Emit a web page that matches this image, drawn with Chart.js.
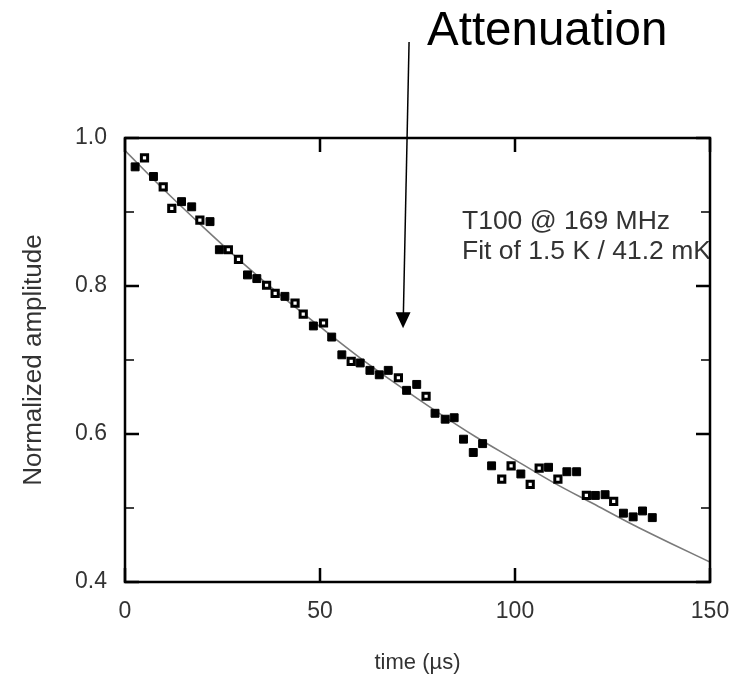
<!DOCTYPE html>
<html>
<head>
<meta charset="utf-8">
<script src="https://cdn.jsdelivr.net/npm/chart.js@4.4.1/dist/chart.umd.min.js"></script>
<style>
  html, body { margin: 0; padding: 0; background: #fff; }
  #wrap { width: 756px; height: 676px; }
</style>
</head>
<body>
<div id="wrap"><canvas id="grafico" width="756" height="676"></canvas></div>
<script>
// ===== dados =====
// pontos cheios (t em us, amplitude normalizada)
const cheioT = [2.6, 7.3, 14.5, 17.1, 21.8, 24.2, 31.4, 33.8, 41.0, 48.3, 53.0, 55.6, 60.3, 62.8, 65.2, 67.5, 72.2, 74.8,
  79.5, 82.1, 84.4, 86.8, 89.3, 91.7, 94.0, 101.5, 108.6, 113.3, 115.8, 120.6, 123.1, 127.8, 130.3, 132.7, 135.2];
const cheioY = [0.961, 0.948, 0.914, 0.907, 0.887, 0.849, 0.815, 0.810, 0.786, 0.746, 0.731, 0.707, 0.696, 0.686, 0.680, 0.686, 0.659, 0.667,
  0.628, 0.620, 0.622, 0.593, 0.575, 0.587, 0.557, 0.546, 0.555, 0.549, 0.549, 0.517, 0.518, 0.493, 0.488, 0.496, 0.487];

// pontos vazados
const vazioT = [5.0, 9.8, 12.0, 19.2, 26.5, 29.1, 36.3, 38.5, 43.6, 45.7, 50.9, 58.0, 70.1, 77.2, 96.6, 99.0, 103.9, 106.2, 111.0, 118.3, 125.3];
const vazioY = [0.973, 0.934, 0.905, 0.889, 0.849, 0.836, 0.801, 0.790, 0.777, 0.762, 0.750, 0.698, 0.676, 0.651, 0.539, 0.557, 0.532, 0.554, 0.539, 0.517, 0.509];

// curva de ajuste
const ajusteT = [0, 10, 20, 30, 40, 50, 60, 70, 80, 90, 100, 110, 120, 130, 140, 150];
const ajusteY = [0.983, 0.930, 0.880, 0.832, 0.787, 0.745, 0.704, 0.666, 0.630, 0.596, 0.565, 0.534, 0.506, 0.478, 0.452, 0.427];

// eixos
const ticksX = [0, 50, 100, 150];
const ticksY = [0.4, 0.6, 0.8, 1.0];
const ticksYMenores = [0.5, 0.7, 0.9];

const textoLegenda = ["T100 @ 169 MHz", "Fit of 1.5 K / 41.2 mK"];

function pares(xs, ys) {
  return xs.map((x, i) => ({ x: x, y: ys[i] }));
}

const fonte = "'Liberation Sans', Arial, sans-serif";

// ===== moldura, ticks internos e anotacoes =====
const molduraPlugin = {
  id: "moldura",
  afterDraw(chart) {
    const ctx = chart.ctx;
    const a = chart.chartArea;
    const sx = chart.scales.x;
    const sy = chart.scales.y;
    ctx.save();
    ctx.strokeStyle = "#000";

    // ticks internos
    ctx.lineWidth = 2.5;
    ticksY.forEach((v) => {
      const py = sy.getPixelForValue(v);
      ctx.beginPath();
      ctx.moveTo(a.left, py); ctx.lineTo(a.left + 14, py);
      ctx.moveTo(a.right, py); ctx.lineTo(a.right - 14, py);
      ctx.stroke();
    });
    ticksX.forEach((v) => {
      const px = sx.getPixelForValue(v);
      ctx.beginPath();
      ctx.moveTo(px, a.bottom); ctx.lineTo(px, a.bottom - 14);
      ctx.moveTo(px, a.top); ctx.lineTo(px, a.top + 14);
      ctx.stroke();
    });
    ctx.lineWidth = 1.5;
    ticksYMenores.forEach((v) => {
      const py = sy.getPixelForValue(v);
      ctx.beginPath();
      ctx.moveTo(a.left, py); ctx.lineTo(a.left + 9, py);
      ctx.moveTo(a.right, py); ctx.lineTo(a.right - 9, py);
      ctx.stroke();
    });

    // moldura
    ctx.lineWidth = 2.5;
    ctx.strokeRect(a.left, a.top, a.right - a.left, a.bottom - a.top);

    // legenda dentro do grafico (cortada pela borda)
    ctx.save();
    ctx.beginPath();
    ctx.rect(a.left, a.top, a.right - a.left - 1, a.bottom - a.top);
    ctx.clip();
    ctx.fillStyle = "#333";
    ctx.font = "26.5px " + fonte;
    ctx.textBaseline = "alphabetic";
    const lx = sx.getPixelForValue(86.4);
    ctx.fillText(textoLegenda[0], lx, sy.getPixelForValue(0.877));
    ctx.fillText(textoLegenda[1], lx, sy.getPixelForValue(0.837));
    ctx.restore();

    // seta "Attenuation"
    const px = sx.getPixelForValue(71.3);
    const py = sy.getPixelForValue(0.743);
    ctx.lineWidth = 1.5;
    ctx.beginPath();
    ctx.moveTo(px + 6, 42);
    ctx.lineTo(px + 0.3, py - 14);
    ctx.stroke();
    ctx.fillStyle = "#000";
    ctx.beginPath();
    ctx.moveTo(px, py);
    ctx.lineTo(px - 7.5, py - 16);
    ctx.lineTo(px + 7.5, py - 16);
    ctx.closePath();
    ctx.fill();

    ctx.font = "47.5px " + fonte;
    ctx.fillText("Attenuation", 427, 45);
    ctx.restore();
  },
};

const ctx = document.getElementById("grafico").getContext("2d");
let myChart = new Chart(ctx, {
  type: "scatter",
  data: {
    datasets: [
      {
        label: "Fit",
        data: pares(ajusteT, ajusteY),
        showLine: true,
        borderColor: "#7a7a7a",
        borderWidth: 1.6,
        pointRadius: 0,
        cubicInterpolationMode: "monotone",
        order: 3,
      },
      {
        label: "cheio",
        data: pares(cheioT, cheioY),
        pointStyle: "rect",
        pointRadius: 5.6,
        backgroundColor: "#000",
        borderColor: "#000",
        borderWidth: 1,
        order: 1,
      },
      {
        label: "vazio",
        data: pares(vazioT, vazioY),
        pointStyle: "rect",
        pointRadius: 4.4,
        backgroundColor: "#fff",
        borderColor: "#000",
        borderWidth: 3,
        order: 2,
      },
    ],
  },
  options: {
    responsive: false,
    animation: false,
    layout: { padding: { top: 138, right: 46, left: 0, bottom: 0 } },
    plugins: { legend: { display: false }, tooltip: { enabled: false } },
    scales: {
      x: {
        type: "linear",
        min: 0,
        max: 150,
        afterFit: (s) => { s.height = 94; },
        grid: { display: false },
        border: { display: false },
        ticks: { stepSize: 50, padding: 8, color: "#333", font: { family: fonte, size: 23 } },
        title: { display: true, text: "time (µs)", color: "#333", padding: 0, font: { family: fonte, size: 22 } },
      },
      y: {
        type: "linear",
        min: 0.4,
        max: 1.0,
        afterFit: (s) => { s.width = 125; },
        grid: { display: false },
        border: { display: false },
        ticks: {
          stepSize: 0.2,
          padding: 10,
          color: "#333",
          font: { family: fonte, size: 23 },
          callback: (v) => v.toFixed(1),
        },
        title: { display: true, text: "Normalized amplitude", color: "#333", padding: { top: 18 }, font: { family: fonte, size: 26 } },
      },
    },
  },
  plugins: [molduraPlugin],
});
</script>
</body>
</html>
